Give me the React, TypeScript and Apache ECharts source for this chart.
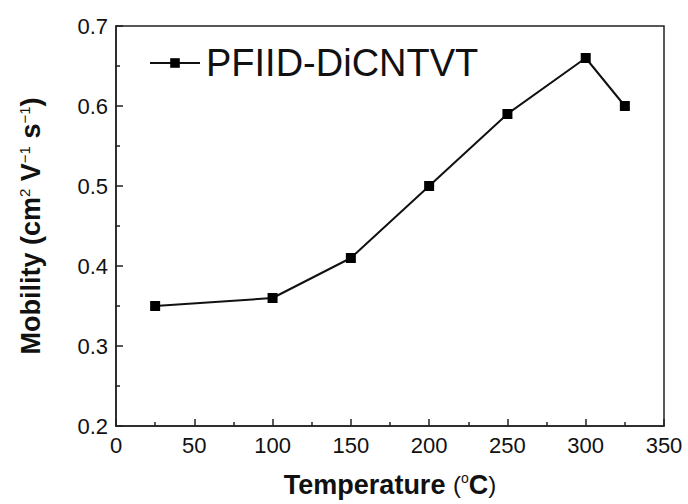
import React, { useEffect, useRef } from "react";
import * as echarts from "echarts";

const temperatures = [25, 100, 150, 200, 250, 300, 325];
const mobility = [0.35, 0.36, 0.41, 0.5, 0.59, 0.66, 0.6];
const seriesName = "PFIID-DiCNTVT";

const FONT = "'Liberation Sans', Arial, sans-serif";

export default function App() {
  const ref = useRef<HTMLDivElement>(null);
  useEffect(() => {
    if (!ref.current) return;
    const chart = echarts.init(ref.current, undefined, { renderer: "svg" });
    chart.setOption({
      animation: false,
      backgroundColor: "#fff",
      textStyle: { fontFamily: FONT },
      grid: {
        left: 116,
        right: 24,
        top: 26,
        bottom: 78,
        show: true,
        borderColor: "#222",
        borderWidth: 1.5,
      },
      legend: {
        left: 144,
        top: 39,
        itemWidth: 50,
        itemHeight: 12,
        textStyle: { fontSize: 38, color: "#111", fontFamily: FONT, padding: [0, 0, 0, 1] },
        data: [seriesName],
      },
      xAxis: {
        type: "value",
        min: 0,
        max: 350,
        interval: 50,
        name: "Temperature {p|(}{sup|o}C{p|)}",
        nameLocation: "middle",
        nameGap: 45,
        nameTextStyle: {
          fontSize: 27,
          fontWeight: "bold",
          color: "#111",
          fontFamily: FONT,
          rich: {
            p: { fontSize: 24, fontWeight: "normal", color: "#111", fontFamily: FONT },
            sup: { fontSize: 14, fontWeight: "normal", color: "#111", verticalAlign: "top", padding: [0, 0, 10, 0], fontFamily: FONT },
          },
        },
        axisLine: { show: true, lineStyle: { color: "#222", width: 1.5 } },
        axisTick: { show: true, inside: true, length: 7, lineStyle: { color: "#222", width: 1.5 } },
        minorTick: { show: true, splitNumber: 2, length: 4, lineStyle: { color: "#222", width: 1.5 } },
        axisLabel: { fontSize: 22, color: "#111", margin: 8, fontFamily: FONT },
        splitLine: { show: false },
      },
      yAxis: {
        type: "value",
        min: 0.2,
        max: 0.7,
        interval: 0.1,
        name: "Mobility (cm{sup|2} V{sup|−1} s{sup|−1})",
        nameLocation: "middle",
        nameRotate: 90,
        nameGap: 72,
        nameTextStyle: {
          fontSize: 27,
          fontWeight: "bold",
          color: "#111",
          fontFamily: FONT,
          rich: {
            sup: { fontSize: 15, fontWeight: "normal", color: "#111", verticalAlign: "top", padding: [0, 0, 10, 0], fontFamily: FONT },
          },
        },
        axisLine: { show: true, lineStyle: { color: "#222", width: 1.5 } },
        axisTick: { show: true, inside: true, length: 7, lineStyle: { color: "#222", width: 1.5 } },
        minorTick: { show: true, splitNumber: 2, length: 4, lineStyle: { color: "#222", width: 1.5 } },
        axisLabel: {
          fontSize: 22,
          color: "#111",
          margin: 8,
          fontFamily: FONT,
          formatter: (v: number) => v.toFixed(1),
        },
        splitLine: { show: false },
      },
      series: [
        {
          name: seriesName,
          type: "line",
          data: temperatures.map((t, i) => [t, mobility[i]]),
          symbol: "rect",
          symbolSize: 10,
          itemStyle: { color: "#000" },
          lineStyle: { color: "#111", width: 2 },
        },
      ],
    });
    return () => chart.dispose();
  }, []);
  return <div ref={ref} style={{ width: 688, height: 504, position: "absolute", left: 0, top: 0 }} />;
}
